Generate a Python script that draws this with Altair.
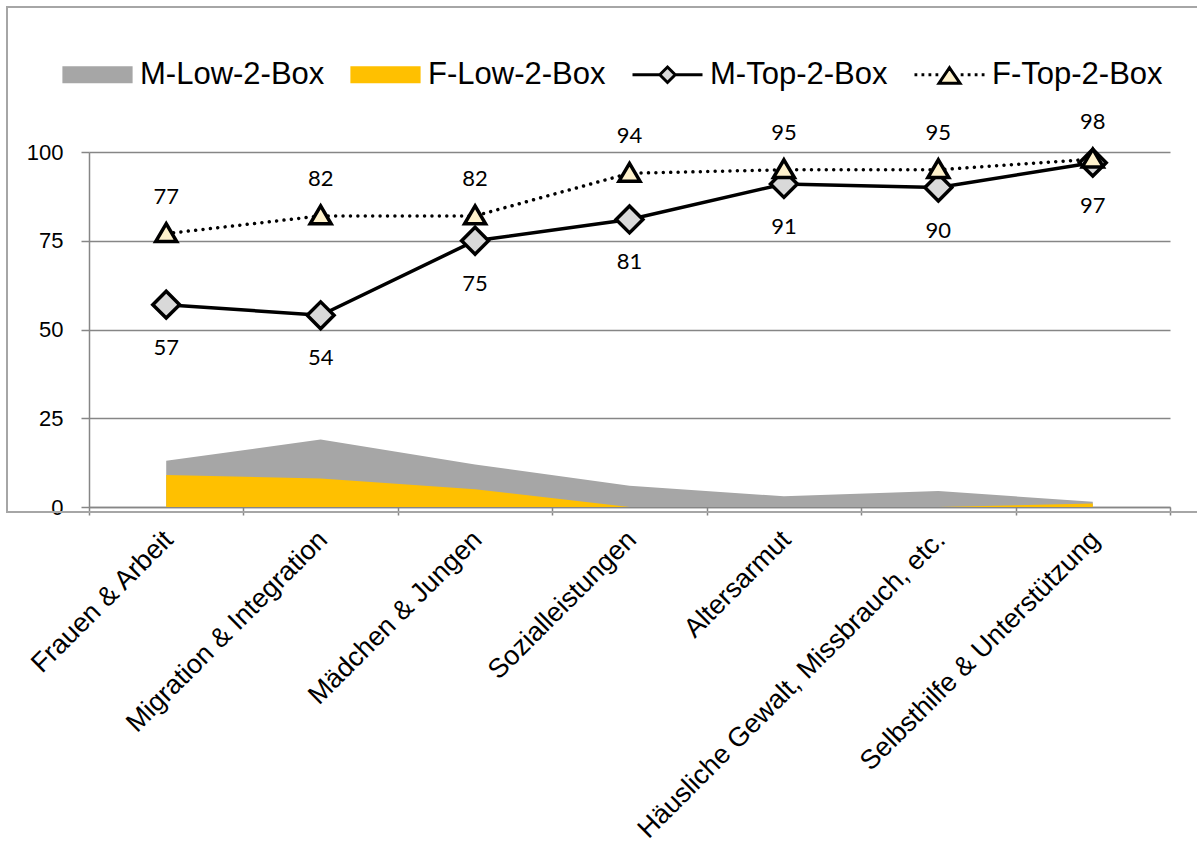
import altair as alt
import pandas as pd

# Themes (x axis) and the four survey series
categories = [
    "Frauen & Arbeit",
    "Migration & Integration",
    "Mädchen & Jungen",
    "Sozialleistungen",
    "Altersarmut",
    "Häusliche Gewalt, Missbrauch, etc.",
    "Selbsthilfe & Unterstützung",
]
m_low = [13, 19, 12, 6, 3, 4.5, 1.5]
f_low = [9, 8, 5, 0, 0, 0, 1]
m_top = [57, 54, 75, 81, 91, 90, 97]
f_top = [77, 82, 82, 94, 95, 95, 98]

series_names = ["M-Low-2-Box", "F-Low-2-Box", "M-Top-2-Box", "F-Top-2-Box"]

df = pd.DataFrame({
    "cat": categories,
    "m_low": m_low,
    "f_low": f_low,
    "m_top": m_top,
    "f_top": f_top,
})

GRAY = "#a6a6a6"
GOLD = "#ffc000"
DIAMOND_FILL = "#d9d9d9"
TRIANGLE_FILL = "#fff2cc"
AXIS_GRAY = "#868686"

x_enc = alt.X(
    "cat:N",
    sort=categories,
    bandPosition=0.5,
    scale=alt.Scale(type="band", domain=categories, paddingInner=0, paddingOuter=0),
    axis=alt.Axis(
        title=None,
        tickBand="extent",
        labelAngle=-45,
        labelAlign="right",
        labelBaseline="top",
        labelOffset=-7,
        labelPadding=11,
        labelFont="Liberation Sans",
        labelFontSize=27,
        labelColor="black",
        labelOverlap=False,
        labelLimit=700,
        domainColor=AXIS_GRAY,
        domainWidth=1.5,
        tickColor=AXIS_GRAY,
        tickWidth=1.5,
        tickSize=8,
        grid=False,
    ),
)

y_scale = alt.Scale(domain=[0, 100], nice=False, zero=True)
y_axis = alt.Axis(
    title=None,
    values=[0, 25, 50, 75, 100],
    labelFont="Liberation Sans",
    labelFontSize=22,
    labelColor="black",
    labelPadding=18,
    domainColor=AXIS_GRAY,
    domainWidth=1.5,
    tickColor=AXIS_GRAY,
    tickWidth=1.5,
    tickSize=8,
    grid=True,
    gridColor=AXIS_GRAY,
    gridWidth=1.3,
)


def y_of(field):
    return alt.Y(f"{field}:Q", scale=y_scale, axis=y_axis, stack=None)


base = alt.Chart(df)

# outer frame of the chart
frame = alt.Chart(alt.Data(values=[{}])).mark_rect(
    fill="white", fillOpacity=0, stroke=GRAY, strokeWidth=2
).encode(
    x=alt.value(-82), x2=alt.value(1130), y=alt.value(-145), y2=alt.value(360)
)

area_m = base.mark_area(color=GRAY, opacity=1).encode(x=x_enc, y=y_of("m_low"))
area_f = base.mark_area(color=GOLD, opacity=1).encode(x=x_enc, y=y_of("f_low"))

line_m = base.mark_line(color="black", strokeWidth=3.5).encode(x=x_enc, y=y_of("m_top"))
line_f = base.mark_line(
    color="black", strokeWidth=3.5, strokeDash=[0.01, 7.4], strokeCap="round"
).encode(x=x_enc, y=y_of("f_top"))

pts_m = base.mark_point(
    shape="diamond", size=720, filled=True, fill=DIAMOND_FILL, stroke="black",
    strokeWidth=3.5, opacity=1
).encode(x=x_enc, y=y_of("m_top"))
pts_f = base.mark_point(
    shape="M0,-0.95L1,0.75L-1,0.75Z", size=440, filled=True, fill=TRIANGLE_FILL,
    stroke="black", strokeWidth=3.5, opacity=1
).encode(x=x_enc, y=y_of("f_top"))

lbl_m = base.mark_text(font="Lato", fontSize=22, color="black", dy=43).encode(
    x=x_enc, y=y_of("m_top"), text=alt.Text("m_top:Q", format=".0f")
)
lbl_f = base.mark_text(font="Lato", fontSize=22, color="black", dy=-37).encode(
    x=x_enc, y=y_of("f_top"), text=alt.Text("f_top:Q", format=".0f")
)

# legend symbols: filled boxes for the areas, line + marker for the lines
dots_left = "".join(f"M{v:.2f},0h0.08" for v in [-1.0, -0.8, -0.6, -0.4])
dots_right = "".join(f"M{v:.2f},0h0.08" for v in [0.32, 0.52, 0.72, 0.92])
legend_paths = [
    "M-0.96,-0.2H0.96V0.2H-0.96Z",
    "M-0.96,-0.2H0.96V0.2H-0.96Z",
    "M-1,0H-0.22M0.22,0H1M0,-0.22L0.22,0L0,0.22L-0.22,0Z",
    dots_left + dots_right + "M0,-0.2L0.3,0.24L-0.3,0.24Z",
]
legend_fills = [GRAY, GOLD, DIAMOND_FILL, TRIANGLE_FILL]
legend_strokes = [GRAY, GOLD, "black", "black"]

legend_props = dict(
    orient="none",
    legendX=-28,
    legendY=-114,
    direction="horizontal",
    columns=4,
    title=None,
    symbolSize=4900,
    symbolStrokeWidth=3,
    symbolOpacity=1,
    labelFont="Liberation Sans",
    labelFontSize=31,
    labelColor="black",
    labelOffset=6,
    labelLimit=600,
    columnPadding=20,
)

legend_layer = alt.Chart(pd.DataFrame({"series": series_names})).mark_point(
    filled=True, size=10
).encode(
    x=alt.value(-5000),
    y=alt.value(-5000),
    shape=alt.Shape("series:N", scale=alt.Scale(domain=series_names, range=legend_paths),
                    legend=alt.Legend(**legend_props)),
    fill=alt.Fill("series:N", scale=alt.Scale(domain=series_names, range=legend_fills),
                  legend=alt.Legend(**legend_props)),
    stroke=alt.Stroke("series:N", scale=alt.Scale(domain=series_names, range=legend_strokes),
                      legend=alt.Legend(**legend_props)),
)

chart = alt.layer(
    frame, area_m, area_f, line_m, line_f, pts_m, pts_f, lbl_m, lbl_f, legend_layer
).properties(
    width=1081,
    height=355,
    autosize=alt.AutoSizeParams(type="none"),
    padding={"left": 89, "top": 152, "right": 27, "bottom": 343},
    background="white",
).configure_view(stroke=None)

chart.save("out.html", embed_options={"renderer": "svg", "actions": False})
